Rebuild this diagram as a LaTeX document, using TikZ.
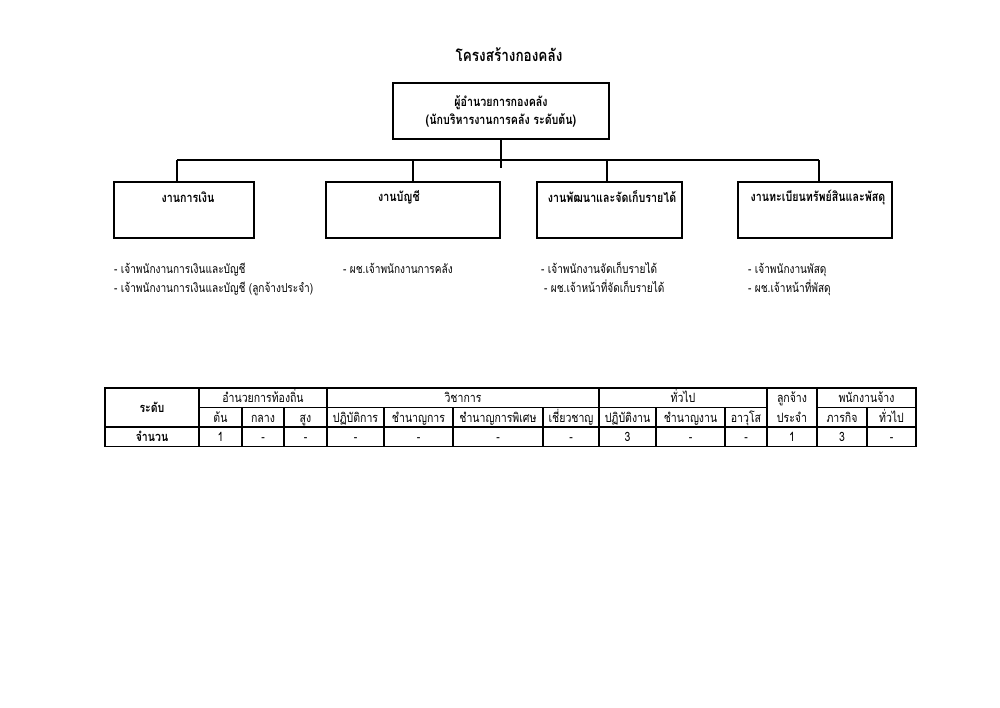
\documentclass[tikz,border=0pt]{standalone}
\usepackage{fontspec}
\setmainfont{Loma}[Script=Thai, FakeStretch=0.82]
\usetikzlibrary{positioning, calc}
\newcommand{\boxfont}{\fontsize{7.4}{10.2}\selectfont\bfseries}
\newcommand{\listfont}{\fontsize{7.0}{9}\selectfont}
\newcommand{\cellfont}{\fontsize{7.3}{9}\selectfont}
\tikzset{
  orgline/.style={line width=0.75pt},
  unitbox/.style={draw, line width=0.75pt, minimum height=1.12cm},
  unittext/.style={font=\boxfont},
  staff/.style={anchor=west, font=\listfont, text height=1.6ex, text depth=0.5ex},
  cell/.style={font=\cellfont, inner sep=0pt, text height=1.6ex, text depth=0.5ex},
  grid/.style={line width=0.6pt},
}

\begin{document}
\begin{tikzpicture}[x=0.02cm, y=-0.02cm]
  \useasboundingbox (0,0) rectangle (1000,707);

  % title
  \node[font=\fontsize{9.4}{11}\selectfont\bfseries] (title) at (509,55) {โครงสร้างกองคลัง};

  % head of division
  \node[unitbox, minimum width=4.32cm, align=center, font=\boxfont] (head) at (501,111)
    {ผู้อำนวยการกองคลัง\\(นักบริหารงานการคลัง ระดับต้น)};

  % units
  \node[unitbox, minimum width=2.80cm] (finance) at (184,210) {};
  \node[unitbox, minimum width=3.48cm] (account) at (413,210) {};
  \node[unitbox, minimum width=2.90cm] (revenue) at (609.5,210) {};
  \node[unitbox, minimum width=3.08cm] (supply)  at (815,210) {};

  \node[unittext] (finance-t) at (188,197) {งานการเงิน};
  \node[unittext] (account-t) at (399,197) {งานบัญชี};
  \node[unittext] (revenue-t) at (612,197) {งานพัฒนาและจัดเก็บรายได้};
  \node[unittext] (supply-t)  at (818,197) {งานทะเบียนทรัพย์สินและพัสดุ};

  % connectors
  \coordinate (stem) at (501,168);
  \coordinate (bus1) at (177,160);
  \coordinate (bus2) at (413,160);
  \coordinate (bus3) at (607,160);
  \coordinate (bus4) at (819,160);
  \draw[orgline] (head.south) -- (stem);
  \draw[orgline] (bus1) -- (bus4);
  \foreach \b/\u in {bus1/finance, bus2/account, bus3/revenue, bus4/supply}
    \draw[orgline] (\b) -- (\b |- \u.north);

  % staff lists
  \node[staff] (finance-s1) at (108,268) {- เจ้าพนักงานการเงินและบัญชี};
  \node[staff] (finance-s2) at (108,287) {- เจ้าพนักงานการเงินและบัญชี (ลูกจ้างประจำ)};
  \node[staff] (account-s1) at (337,268) {- ผช.เจ้าพนักงานการคลัง};
  \node[staff] (revenue-s1) at (535,268) {- เจ้าพนักงานจัดเก็บรายได้};
  \node[staff] (revenue-s2) at (538,287) {- ผช.เจ้าหน้าที่จัดเก็บรายได้};
  \node[staff] (supply-s1)  at (742,268) {- เจ้าพนักงานพัสดุ};
  \node[staff] (supply-s2)  at (742,287) {- ผช.เจ้าหน้าที่พัสดุ};

  % table of positions
  \draw[grid] (105,388) rectangle (916,446.5);
  \draw[grid] (199,407.5) -- (767,407.5);
  \draw[grid] (817,407.5) -- (916,407.5);
  \draw[grid] (105,427) -- (916,427);
  \foreach \c in {199,327,599,767,817}
    \draw[grid] (\c,388) -- (\c,446.5);
  \foreach \c in {242,284,384,453,543,656,725,867}
    \draw[grid] (\c,407.5) -- (\c,446.5);

  \node[cell, font=\cellfont\bfseries] (lvl) at (152,407.5) {ระดับ};
  \node[cell, font=\cellfont\bfseries] (num) at (152,436.75) {จำนวน};
  \foreach \l/\r/\t [count=\i] in {199/327/อำนวยการท้องถิ่น, 327/599/วิชาการ,
      599/767/ทั่วไป, 767/817/ลูกจ้าง, 817/916/พนักงานจ้าง}
    \node[cell] (grp-\i) at ({(\l+\r)/2},397.75) {\t};
  \foreach \l/\r/\t/\n [count=\i] in {199/242/ต้น/1, 242/284/กลาง/-, 284/327/สูง/-,
      327/384/ปฏิบัติการ/-, 384/453/ชำนาญการ/-, 453/543/ชำนาญการพิเศษ/-,
      543/599/เชี่ยวชาญ/-, 599/656/ปฏิบัติงาน/3, 656/725/ชำนาญงาน/-,
      725/767/อาวุโส/-, 767/817/ประจำ/1, 817/867/ภารกิจ/3, 867/916/ทั่วไป/-}
  {
    \node[cell] (lv-\i) at ({(\l+\r)/2},417.25) {\t};
    \node[cell] (nm-\i) at ({(\l+\r)/2},436.75) {\n};
  }
\end{tikzpicture}
\end{document}
